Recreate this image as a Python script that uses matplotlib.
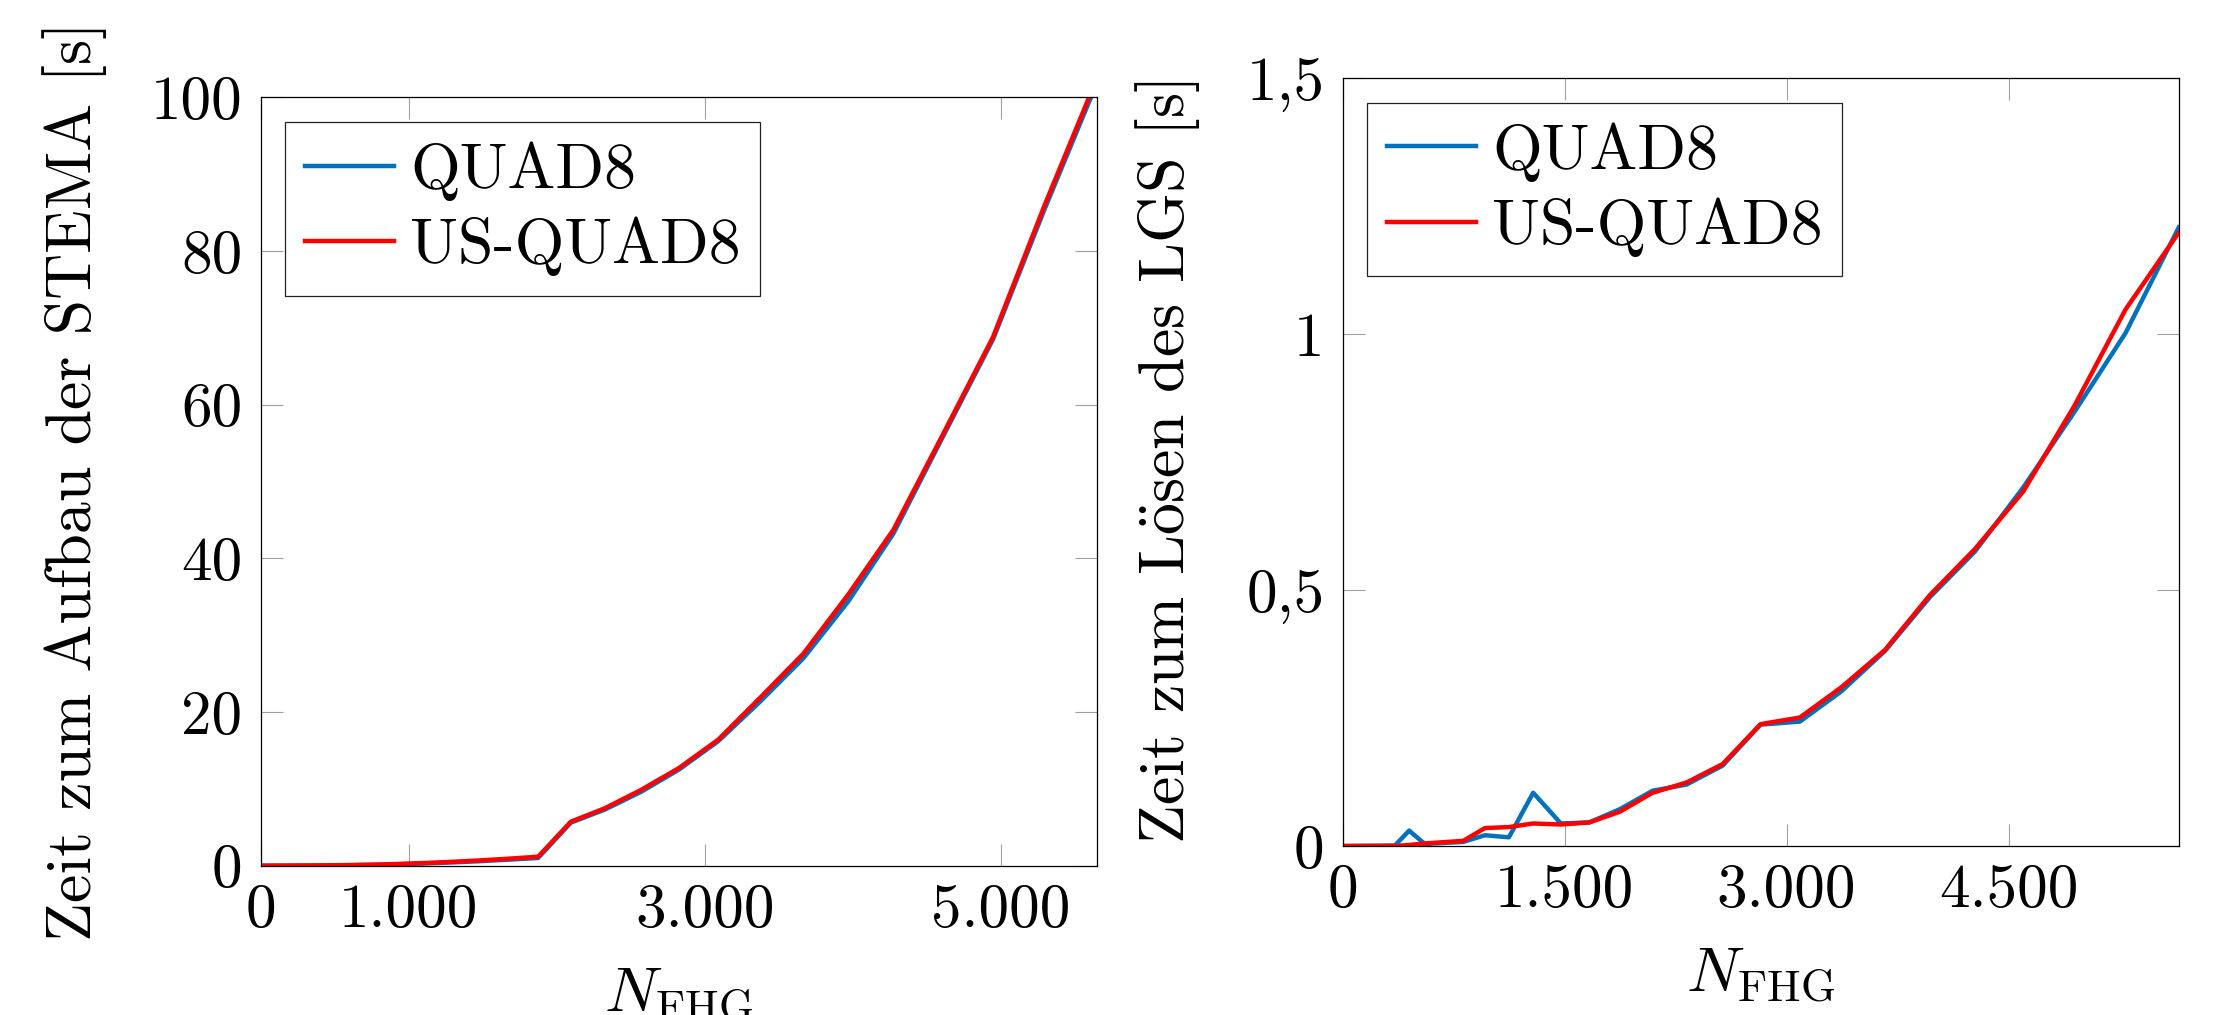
import numpy as np
import matplotlib
matplotlib.use('Agg')
import matplotlib.pyplot as plt

# Computer Modern look, like the LaTeX original
plt.rcParams['font.family'] = ['cmr10', 'DejaVu Serif']
plt.rcParams['mathtext.fontset'] = 'cm'
plt.rcParams['axes.formatter.use_mathtext'] = True

# number of degrees of freedom
n_fhg = [16, 354, 450, 556, 815, 962, 1124, 1288, 1475, 1667, 1874, 2095,
         2324, 2568, 2824, 3090, 3370, 3665, 3968, 4272, 4598, 4945, 5290, 5649]

# time to assemble the stiffness matrix [s]
stema_quad8 = [0, 0.02, 0.03, 0.05, 0.12, 0.2, 0.3, 0.42, 0.58, 0.78, 1.0, 5.6,
               7.3, 9.6, 12.5, 16.2, 21.3, 27.0, 34.4, 43.2, 55.5, 68.5, 85.3, 102.0]
stema_us_quad8 = [0, 0.03, 0.05, 0.07, 0.16, 0.25, 0.36, 0.5, 0.68, 0.9, 1.17, 5.73,
                  7.47, 9.85, 12.7, 16.4, 21.8, 27.6, 35.3, 43.7, 55.8, 68.8, 85.8, 102.6]

# time to solve the linear system [s]
lgs_quad8 = [0, 0.001, 0.030, 0.004, 0.008, 0.021, 0.017, 0.104, 0.044, 0.046, 0.072, 0.108,
             0.120, 0.157, 0.237, 0.243, 0.302, 0.381, 0.486, 0.575, 0.700, 0.848, 1.002, 1.208]
lgs_us_quad8 = [0, 0.0, 0.002, 0.005, 0.010, 0.035, 0.037, 0.044, 0.042, 0.046, 0.067, 0.104,
                0.124, 0.160, 0.238, 0.251, 0.310, 0.383, 0.490, 0.580, 0.692, 0.860, 1.048, 1.198]

left_xticks = [0, 1000, 3000, 5000]
left_xticklabels = ['0', '1.000', '3.000', '5.000']
left_yticks = [0, 20, 40, 60, 80, 100]
left_yticklabels = ['0', '20', '40', '60', '80', '100']

right_xticks = [0, 1500, 3000, 4500]
right_xticklabels = ['0', '1.500', '3.000', '4.500']
right_yticks = [0, 0.5, 1, 1.5]
right_yticklabels = ['0', '0,5', '1', '1,5']

c_blue = '#0072BD'
c_red = '#FF0000'
fs = 46
tfs = 44

fig = plt.figure(figsize=(22.18, 10.15), dpi=100)
ax1 = fig.add_axes([0.11745, 0.1471, 0.37727, 0.7570])
ax2 = fig.add_axes([0.60528, 0.1665, 0.37701, 0.7567])


def style(ax, xt, xtl, yt, ytl, ylim, ylabel, ylab_x):
    ax.set_xlim(0, n_fhg[-1])
    ax.set_ylim(*ylim)
    ax.set_xticks(xt, xtl)
    ax.set_yticks(yt, ytl)
    ax.tick_params(direction='in', top=True, right=True, length=15.6, width=0.8,
                   color='#a0a0a0', labelsize=tfs, pad=13)
    ax.tick_params(axis='x', pad=13)
    for s in ax.spines.values():
        s.set_linewidth(0.9)
        s.set_color('black')
    ax.set_xlabel(r'$N_{\mathrm{FHG}}$', fontsize=fs)
    ax.xaxis.set_label_coords(0.5, -0.131)
    ax.set_ylabel(ylabel, fontsize=fs)
    ax.yaxis.set_label_coords(ylab_x, 0.5)
    leg = ax.legend(loc='upper left', fontsize=fs, handlelength=1.4, handletextpad=0.25,
                    borderpad=0.3, labelspacing=0.25, borderaxespad=0.39,
                    fancybox=False, framealpha=1, edgecolor='#222222')
    leg.get_frame().set_linewidth(0.9)


ax1.plot(n_fhg, stema_quad8, color=c_blue, lw=3.2, label='QUAD8', solid_joinstyle='round')
ax1.plot(n_fhg, stema_us_quad8, color=c_red, lw=3.2, label='US-QUAD8', solid_joinstyle='round')
style(ax1, left_xticks, left_xticklabels, left_yticks, left_yticklabels, (0, 100),
      'Zeit zum Aufbau der STEMA [s]', -0.1834)

ax2.plot(n_fhg, lgs_quad8, color=c_blue, lw=3.2, label='QUAD8', solid_joinstyle='round')
ax2.plot(n_fhg, lgs_us_quad8, color=c_red, lw=3.2, label='US-QUAD8', solid_joinstyle='round')
style(ax2, right_xticks, right_xticklabels, right_yticks, right_yticklabels, (0, 1.5),
      r'Zeit zum L$\ddot{\mathrm{o}}$sen des LGS [s]', -0.1677)

fig.savefig('out.png', dpi=100)
